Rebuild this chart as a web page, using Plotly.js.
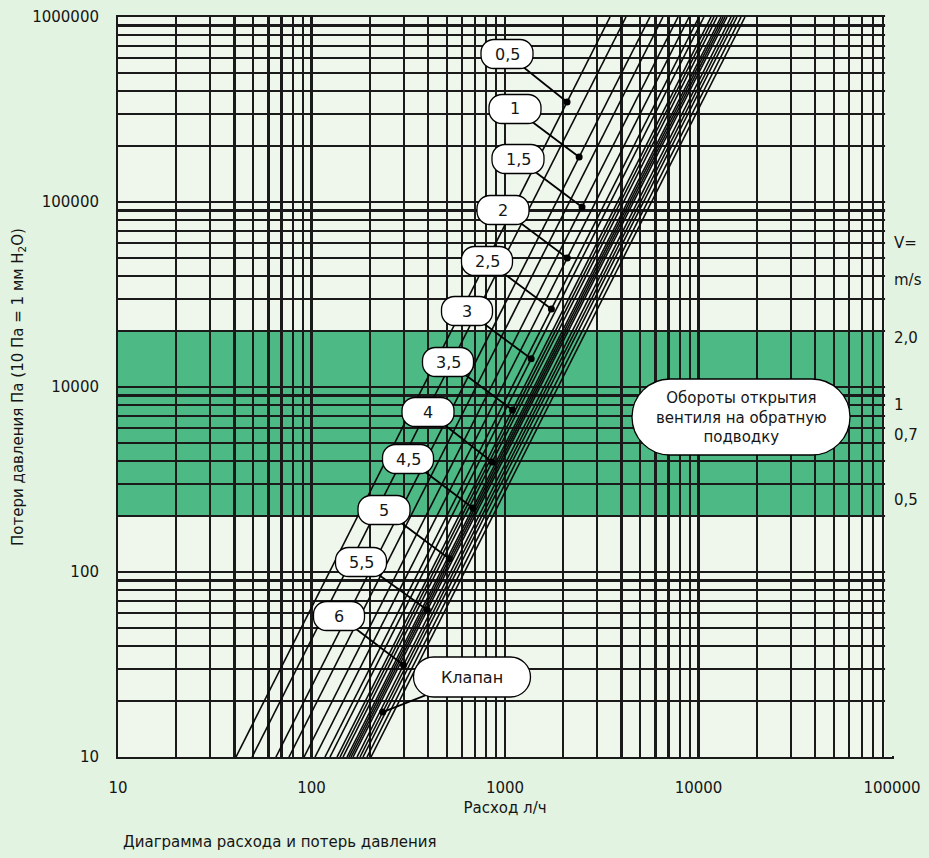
<!DOCTYPE html>
<html>
<head>
<meta charset="utf-8">
<script src="https://cdn.plot.ly/plotly-3.0.1.min.js"></script>
<style>html,body{margin:0;padding:0;background:#e3f3e1;}#chart{width:929px;height:858px;}</style>
</head>
<body>
<div id="chart"></div>
<script>
// ---------- DATA ----------
// Each characteristic line is straight on log-log axes: flow (l/h) where it meets the bottom (10) and top (100000) edge.
const lineXAtBottom = [40.7, 49.3, 65.5, 76.5, 91.5, 104.3, 117.4, 124.6, 135.5, 140.4, 145.5, 152.6, 156.3, 160, 163.9, 171.9, 178.1, 184.5, 193.6, 203];
const lineXAtTop    = [3490, 4220, 5610, 6550, 7840, 8940, 10060, 10670, 11610, 12030, 12470, 13070, 13390, 13710, 14040, 14730, 15260, 15810, 16590, 17390];
const lineYBottom = 10;
const lineYTop = 100000;

// callout labels (turns of opening) and the line each one points to
const labelNames = ['0,5', '1', '1,5', '2', '2,5', '3', '3,5', '4', '4,5', '5', '5,5', '6', 'Клапан'];
const labelLine  = [0, 2, 4, 5, 6, 7, 8, 10, 11, 12, 14, 15, 16];
const labelDotY  = [34700, 17500, 9400, 4980, 2640, 1420, 751, 393, 222, 118, 62.3, 31.4, 17.5];

// axis ticks
const xDecades = [10, 100, 1000, 10000, 100000];
const xTickLabels = ['10', '100', '1000', '10000', '100000'];
const yDecades = [10, 100, 1000, 10000, 100000];
const yTickLabels = ['10', '100', '10000', '100000', '1000000'];

// shaded band (pressure loss range)
const bandLow = 200, bandHigh = 2000;
const gridEndX = 90000;

// velocity scale at the right
const vLabels = ['V=', 'm/s', '2,0', '1', '0,7', '0,5'];
const vLabelLevel = [6000, 3790, 1850, 800, 550, 245];

const bigNote = 'Обороты открытия<br>вентиля на обратную<br>подводку';
const caption = 'Диаграмма расхода и потерь давления';

// ---------- LAYOUT GEOMETRY (styles) ----------
const W = 929, H = 858;
const M = {l: 118, r: 37, t: 17, b: 101};
const PW = W - M.l - M.r, PH = H - M.t - M.b;
const xr = [1, 5], yr = [1, 5];
const FONT = 'DejaVu Sans';
const INK = '#151515';

function pxToPaperX(px) { return (px - M.l) / PW; }
function pyToPaperY(py) { return (H - M.b - py) / PH; }
function pxToData(px) { return Math.pow(10, xr[0] + (px - M.l) / PW * (xr[1] - xr[0])); }
function pyToData(py) { return Math.pow(10, yr[0] + (H - M.b - py) / PH * (yr[1] - yr[0])); }
function logToPaperX(v) { return (Math.log10(v) - xr[0]) / (xr[1] - xr[0]); }
function logToPaperY(v) { return (Math.log10(v) - yr[0]) / (yr[1] - yr[0]); }

// label box placement (pixel centre, width, height)
const boxCx = [507, 515, 518, 503, 487, 467, 448, 428, 408, 384, 361, 339, 472];
const boxCy = [54, 109, 159, 210, 261, 311, 362, 412, 459, 510, 562, 616, 677];
const boxW  = [52, 52, 52, 52, 51, 51, 51, 52, 51, 52, 51, 51, 117];
const boxH  = [29, 29, 29, 29, 29, 29, 29, 29, 29, 29, 29, 29, 40];

// ---------- TICKS ----------
const xTickVals = [], xTickText = [];
for (let d = 1; d <= 4; d++) {
  for (let m = 1; m <= 9; m++) {
    const v = m * Math.pow(10, d);
    xTickVals.push(v);
    const k = xDecades.indexOf(v);
    xTickText.push(k >= 0 ? xTickLabels[k] : ' ');
  }
}
xTickVals.push(100000); xTickText.push(xTickLabels[4]);
const yTickVals = [], yTickText = [];
for (let d = 1; d <= 4; d++) {
  for (let m = 1; m <= 9; m++) {
    const v = m * Math.pow(10, d);
    yTickVals.push(v);
    const k = yDecades.indexOf(v);
    yTickText.push(k >= 0 ? yTickLabels[k] : ' ');
  }
}
yTickVals.push(100000); yTickText.push(yTickLabels[4]);

// ---------- TRACES ----------
const lx = [], ly = [];
lineXAtBottom.forEach((xb, i) => {
  lx.push(xb, lineXAtTop[i], null);
  ly.push(lineYBottom, lineYTop, null);
});
const traces = [{
  type: 'scatter', mode: 'lines', x: lx, y: ly,
  line: {color: '#0a0a0a', width: 1.6}, hoverinfo: 'skip', showlegend: false
}];

function xOnLine(i, y) {
  const a = Math.log10(lineXAtBottom[i]), b = Math.log10(lineXAtTop[i]);
  const t = (Math.log10(y) - Math.log10(lineYBottom)) / (Math.log10(lineYTop) - Math.log10(lineYBottom));
  return Math.pow(10, a + t * (b - a));
}
const dotX = labelLine.map((li, k) => xOnLine(li, labelDotY[k]));

const leadX = [], leadY = [];
labelNames.forEach((n, k) => {
  leadX.push(pxToData(boxCx[k]), dotX[k], null);
  leadY.push(pyToData(boxCy[k]), labelDotY[k], null);
});
traces.push({
  type: 'scatter', mode: 'lines', x: leadX, y: leadY,
  line: {color: '#000', width: 1.8}, hoverinfo: 'skip', showlegend: false
});
traces.push({
  type: 'scatter', mode: 'markers', x: dotX, y: labelDotY,
  marker: {color: '#000', size: 7}, hoverinfo: 'skip', showlegend: false
});

// ---------- SHAPES ----------
function pillPath(cx, cy, w, h, rr) {
  const r = Math.min(rr, h / 2), k = 0.5523;
  const x0 = cx - w / 2, x1 = cx + w / 2, y0 = cy - h / 2, y1 = cy + h / 2;
  const P = (x, y) => pxToPaperX(x).toFixed(5) + ',' + pyToPaperY(y).toFixed(5);
  return 'M' + P(x0 + r, y0) + ' L' + P(x1 - r, y0) +
    ' C' + P(x1 - r + k * r, y0) + ' ' + P(x1, y0 + r - k * r) + ' ' + P(x1, y0 + r) +
    ' L' + P(x1, y1 - r) +
    ' C' + P(x1, y1 - r + k * r) + ' ' + P(x1 - r + k * r, y1) + ' ' + P(x1 - r, y1) +
    ' L' + P(x0 + r, y1) +
    ' C' + P(x0 + r - k * r, y1) + ' ' + P(x0, y1 - r + k * r) + ' ' + P(x0, y1 - r) +
    ' L' + P(x0, y0 + r) +
    ' C' + P(x0, y0 + r - k * r) + ' ' + P(x0 + r - k * r, y0) + ' ' + P(x0 + r, y0) + ' Z';
}

const shapes = [
  {type: 'rect', xref: 'paper', yref: 'paper', layer: 'below',
   x0: 0, x1: logToPaperX(gridEndX), y0: logToPaperY(bandLow), y1: logToPaperY(bandHigh),
   fillcolor: '#4dba86', line: {width: 0}},
  {type: 'rect', xref: 'paper', yref: 'paper', layer: 'above',
   x0: logToPaperX(gridEndX) + 0.0025, x1: 1.03, y0: 0.0015, y1: 1.01,
   fillcolor: '#e3f3e1', line: {width: 0}}
];
labelNames.forEach((n, k) => {
  shapes.push({type: 'path', xref: 'paper', yref: 'paper', layer: 'above',
    path: pillPath(boxCx[k], boxCy[k], boxW[k], boxH[k], k === 12 ? 20 : 13),
    fillcolor: '#ffffff', line: {color: '#000', width: 1.3}});
});
shapes.push({type: 'path', xref: 'paper', yref: 'paper', layer: 'above',
  path: pillPath(741, 417, 218, 76, 38), fillcolor: '#ffffff', line: {color: '#000', width: 1.3}});

// ---------- ANNOTATIONS ----------
const annotations = [];
labelNames.forEach((n, k) => {
  annotations.push({xref: 'paper', yref: 'paper', x: pxToPaperX(boxCx[k]), y: pyToPaperY(boxCy[k]),
    text: n, showarrow: false, xanchor: 'center', yanchor: 'middle',
    font: {family: FONT, size: 16, color: INK}});
});
annotations.push({xref: 'paper', yref: 'paper', x: pxToPaperX(741), y: pyToPaperY(417),
  text: bigNote, showarrow: false, xanchor: 'center', yanchor: 'middle', align: 'center',
  font: {family: FONT, size: 15, color: INK}});
vLabels.forEach((t, k) => {
  annotations.push({xref: 'paper', yref: 'paper', x: pxToPaperX(892), y: logToPaperY(vLabelLevel[k]),
    text: t, showarrow: false, xanchor: 'left', yanchor: 'middle',
    font: {family: FONT, size: 15, color: INK}});
});
annotations.push({xref: 'paper', yref: 'paper', x: pxToPaperX(121), y: pyToPaperY(842),
  text: caption, showarrow: false, xanchor: 'left', yanchor: 'middle',
  font: {family: FONT, size: 15, color: INK}});

const axisCommon = {
  type: 'log', showgrid: true, gridcolor: '#1a1a1a', gridwidth: 2.2,
  zeroline: false, showline: true, linecolor: '#1a1a1a', linewidth: 2, mirror: true,
  ticks: '', automargin: false, fixedrange: true,
  tickfont: {family: FONT, size: 15, color: INK}
};

const layout = {
  width: W, height: H,
  margin: M,
  paper_bgcolor: '#e3f3e1',
  plot_bgcolor: '#eff6eb',
  showlegend: false,
  xaxis: Object.assign({}, axisCommon, {
    range: xr, tickvals: xTickVals, ticktext: xTickText, tickangle: 0,
    ticklabelstandoff: 16,
    title: {text: 'Расход л/ч', font: {family: FONT, size: 15, color: INK}, standoff: 6}
  }),
  yaxis: Object.assign({}, axisCommon, {
    range: yr, tickvals: yTickVals, ticktext: yTickText,
    ticklabelstandoff: 14,
    title: {text: 'Потери давления Па (10 Па = 1 мм H<sub>2</sub>O)', font: {family: FONT, size: 15, color: INK}, standoff: 5}
  }),
  shapes: shapes,
  annotations: annotations
};

Plotly.newPlot('chart', traces, layout, {displayModeBar: false, staticPlot: true});
</script>
</body>
</html>
